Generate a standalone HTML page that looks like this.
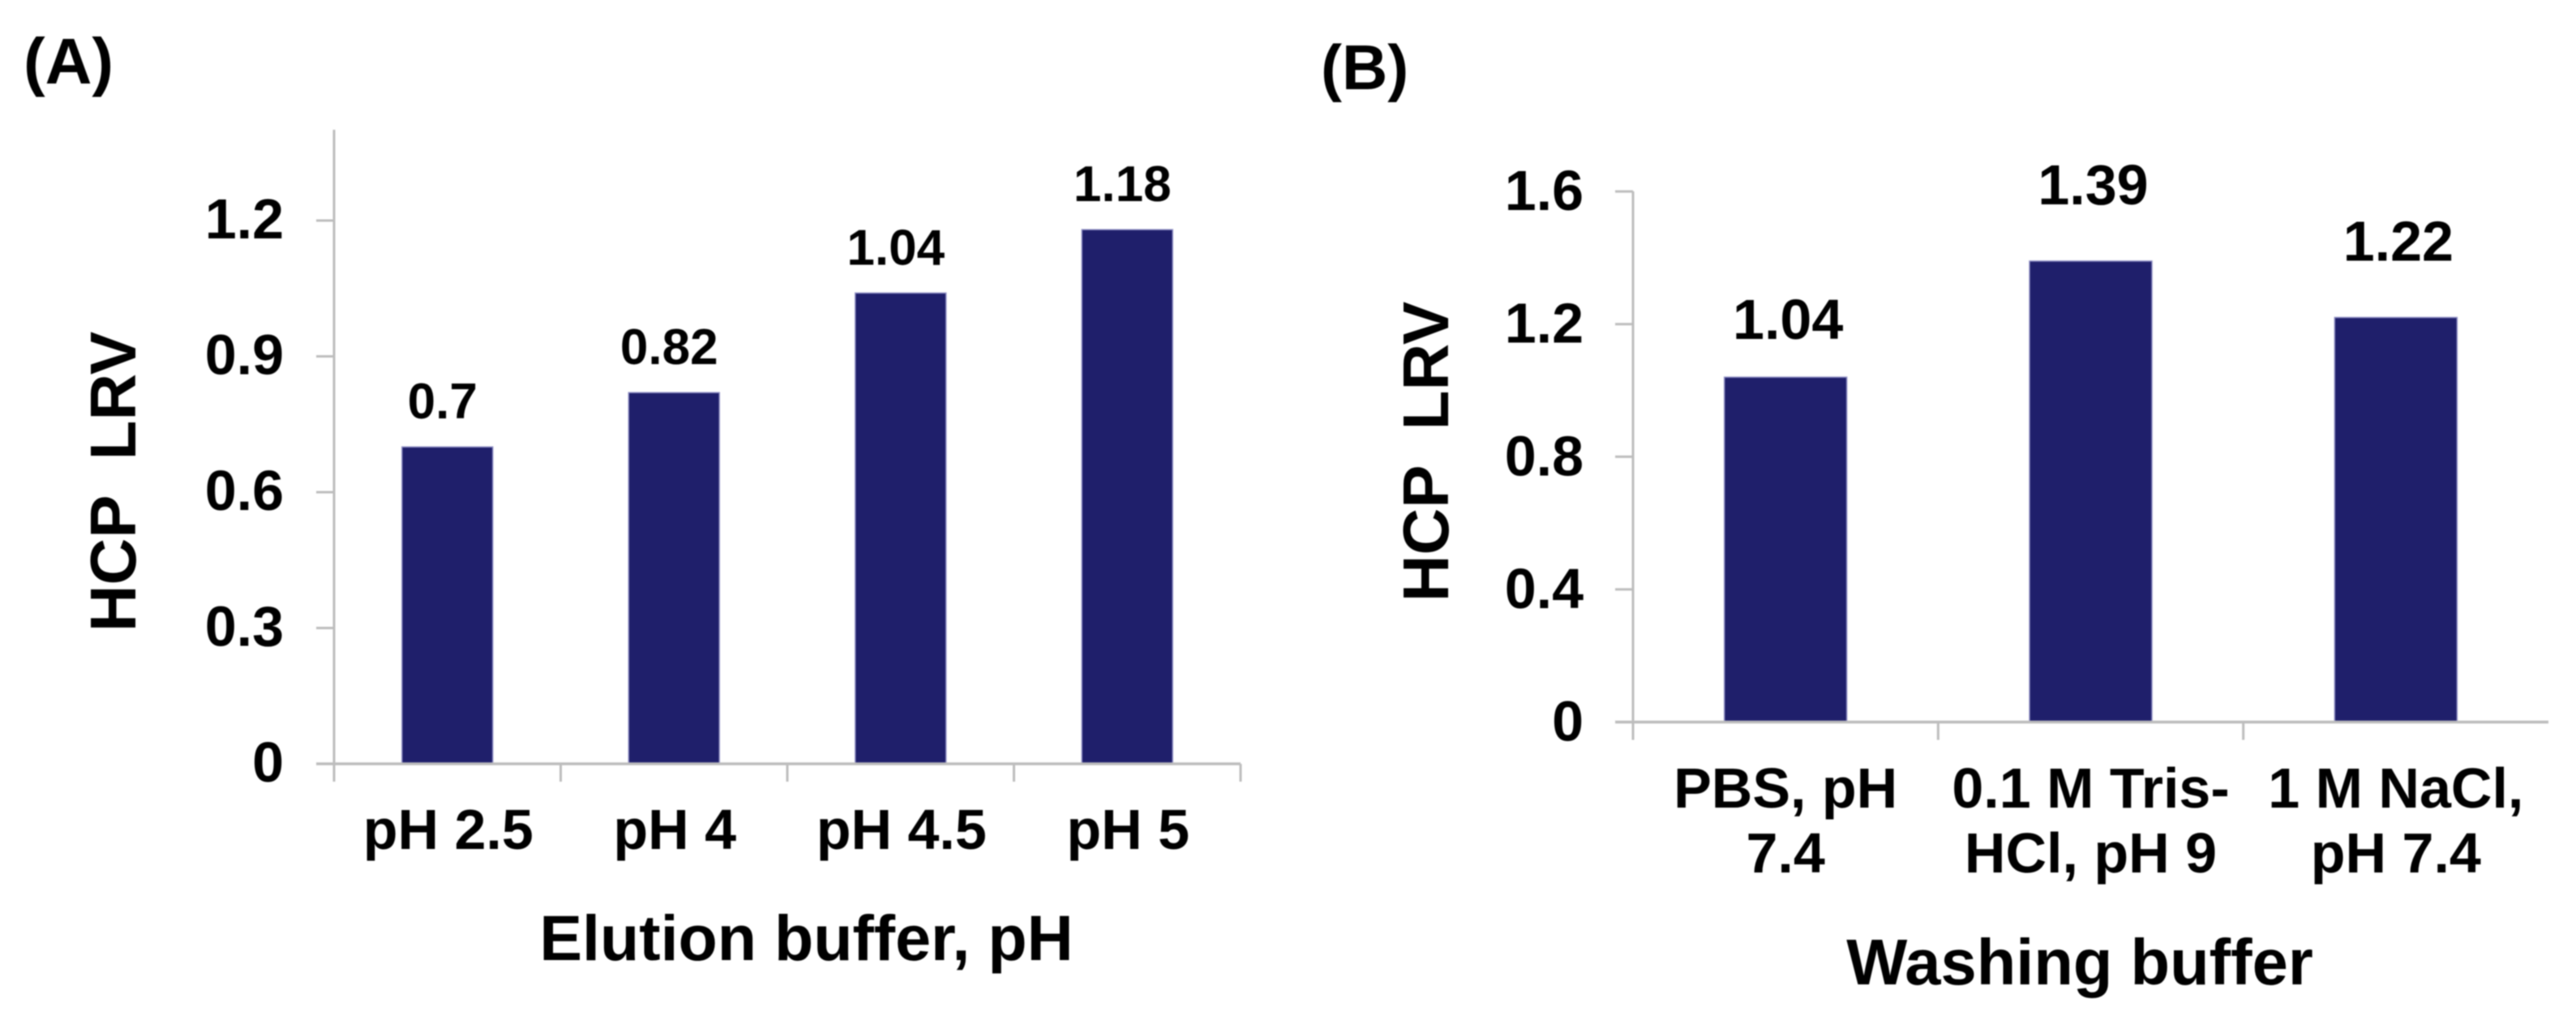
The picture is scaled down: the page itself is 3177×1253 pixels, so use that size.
<!DOCTYPE html>
<html lang="en">
<head>
<meta charset="utf-8">
<title>HCP LRV by elution and washing buffer</title>
<style>
  html, body { margin: 0; padding: 0; background: #ffffff; }
  body { width: 3177px; height: 1253px; overflow: hidden; }
  svg { display: block; filter: blur(0.9px); }
  text { font-family: "Liberation Sans", Arial, sans-serif; font-weight: 700; fill: #000000; white-space: pre; }
</style>
</head>
<body>
<svg id="figure" xmlns="http://www.w3.org/2000/svg" width="3177" height="1253" viewBox="0 0 3177 1253">
  <rect x="0" y="0" width="3177" height="1253" fill="#ffffff"/>
  <text x="29" y="103" font-size="80">(A)</text>
  <text x="1629" y="110" font-size="78">(B)</text>
  <g id="panel-a"></g>
  <g id="panel-b"></g>
</svg>
<script>
// Panel A data
const categoriesA = [["pH 2.5"], ["pH 4"], ["pH 4.5"], ["pH 5"]];
const valuesA = [0.7, 0.82, 1.04, 1.18];
const valueLabelsA = ["0.7", "0.82", "1.04", "1.18"];
const tickValuesA = [0, 0.3, 0.6, 0.9, 1.2];
const tickLabelsA = ["0", "0.3", "0.6", "0.9", "1.2"];

// Panel B data
const categoriesB = [["PBS, pH", "7.4"], ["0.1 M Tris-", "HCl, pH 9"], ["1 M NaCl,", "pH 7.4"]];
const valuesB = [1.04, 1.39, 1.22];
const valueLabelsB = ["1.04", "1.39", "1.22"];
const tickValuesB = [0, 0.4, 0.8, 1.2, 1.6];
const tickLabelsB = ["0", "0.4", "0.8", "1.2", "1.6"];

const SVG_NS = "http://www.w3.org/2000/svg";
const AXIS_COLOR = "#bdbdbd";
const BAR_FILL = "#1f1f6b";
const BAR_EDGE = "#8f8fc4";

function make(parent, tag) {
  const el = document.createElementNS(SVG_NS, tag);
  parent.appendChild(el);
  return el;
}

function line(parent, x1, y1, x2, y2, width) {
  const el = make(parent, "line");
  el.setAttribute("x1", x1);
  el.setAttribute("y1", y1);
  el.setAttribute("x2", x2);
  el.setAttribute("y2", y2);
  el.setAttribute("stroke", AXIS_COLOR);
  el.setAttribute("stroke-width", width);
  return el;
}

function text(parent, x, y, size, anchor, content) {
  const el = make(parent, "text");
  el.setAttribute("x", x);
  el.setAttribute("y", y);
  el.setAttribute("font-size", size);
  el.setAttribute("text-anchor", anchor);
  el.textContent = content;
  return el;
}

function drawPanel(root, frame, categories, values, valueLabels, tickValues, tickLabels) {
  const yScale = v => frame.y0 - v * frame.pxPerUnit;
  const xStep = (frame.xEnd - frame.x0) / categories.length;
  const xBand = i => frame.x0 + (i + 0.5) * xStep;
  const xEdge = i => frame.x0 + i * xStep;

  // Bars
  categories.forEach((cat, i) => {
    const bar = make(root, "rect");
    
    
    bar.setAttribute("x", xBand(i) - frame.barWidth / 2);
    bar.setAttribute("y", yScale(values[i]));
    bar.setAttribute("width", frame.barWidth);
    bar.setAttribute("height", frame.y0 - yScale(values[i]));
    bar.setAttribute("fill", BAR_FILL);
    bar.setAttribute("stroke", BAR_EDGE);
    bar.setAttribute("stroke-width", 1.5);
  });

  // Axis lines
  const yAxis = line(root, frame.x0, frame.yTop, frame.x0, frame.y0 + frame.tickLen, 3);
  
  
  const xAxis = line(root, frame.x0 - frame.tickLen, frame.y0, frame.xEnd, frame.y0, 3.5);
  
  

  // Y ticks and labels
  tickValues.forEach((v, i) => {
    const y = yScale(v);
    const tick = line(root, frame.x0 - frame.tickLen, y, frame.x0, y, 3);
    
    
    const label = text(root, frame.tickLabelX, y + frame.tickLabelDy, 70, "end", tickLabels[i]);
    
    
  });

  // X ticks
  for (let i = 1; i <= frame.xTickCount; i++) {
    const tick = line(root, xEdge(i), frame.y0, xEdge(i), frame.y0 + frame.tickLen, 3);
    
    
  }

  // Category labels
  categories.forEach((cat, i) => {
    cat.forEach((part, j) => {
      const label = text(root, xBand(i) + frame.catDx, frame.catBaseline + j * frame.catLineHeight, 70, "middle", part);
      
      
    });
  });

  // Value labels
  valueLabels.forEach((lab, i) => {
    const gap = frame.valueGap(i);
    const label = text(root, xBand(i) + frame.valueDx, yScale(values[i]) - gap, frame.valueSize, "middle", lab);
    
    
  });

  // Axis titles
  const xTitle = text(root, frame.xTitleX, frame.xTitleY, frame.xTitleSize, "middle", frame.xTitle);
  
  
  const yTitle = text(root, 0, 0, 80, "middle", "HCP  LRV");
  
  
  yTitle.setAttribute("transform", "translate(" + frame.yTitleX + "," + frame.yTitleY + ") rotate(-90)");
}

drawPanel(document.getElementById("panel-a"), {
  x0: 412, xEnd: 1530, y0: 942, yTop: 160, pxPerUnit: 558.3, barWidth: 112, tickLen: 22,
  xTickCount: 4, tickLabelX: 350, tickLabelDy: 22, catDx: 1, catBaseline: 1047, catLineHeight: 80,
  valueDx: -6, valueSize: 62, valueGap: i => 35,
  xTitle: "Elution buffer, pH", xTitleX: 994.5, xTitleY: 1184, xTitleSize: 79,
  yTitleX: 167, yTitleY: 594
}, categoriesA, valuesA, valueLabelsA, tickValuesA, tickLabelsA);

drawPanel(document.getElementById("panel-b"), {
  x0: 2014, xEnd: 3143, y0: 890.5, yTop: 236, pxPerUnit: 409, barWidth: 151, tickLen: 22,
  xTickCount: 2, tickLabelX: 1953, tickLabelDy: 23, catDx: 0, catBaseline: 996, catLineHeight: 80,
  valueDx: 3, valueSize: 70, valueGap: i => (i === 0 ? 47 : 70),
  xTitle: "Washing buffer", xTitleX: 2565, xTitleY: 1214, xTitleSize: 79.5,
  yTitleX: 1786, yTitleY: 557
}, categoriesB, valuesB, valueLabelsB, tickValuesB, tickLabelsB);
</script>
</body>
</html>
